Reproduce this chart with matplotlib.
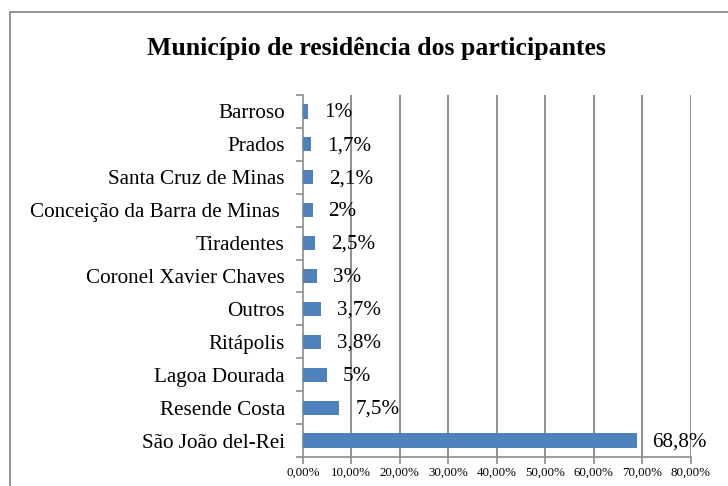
import numpy as np
import matplotlib.pyplot as plt
from matplotlib.patches import Rectangle
from matplotlib.ticker import FuncFormatter

municipios = ['São João del-Rei', 'Resende Costa', 'Lagoa Dourada', 'Ritápolis', 'Outros',
              'Coronel Xavier Chaves', 'Tiradentes', 'Conceição da Barra de Minas ',
              'Santa Cruz de Minas', 'Prados', 'Barroso']
percentuais = [68.8, 7.5, 5, 3.8, 3.7, 3, 2.5, 2, 2.1, 1.7, 1]
rotulos = ['68,8%', '7,5%', '5%', '3,8%', '3,7%', '3%', '2,5%', '2%', '2,1%', '1,7%', '1%']

plt.rcParams['font.family'] = ['Liberation Serif', 'DejaVu Serif']

fig = plt.figure(figsize=(7.28, 4.86), dpi=100)
ax = fig.add_axes([0.416, 0.0597, 0.533, 0.7448])

# moldura do grafico (corta na direita e embaixo como no original)
fig.patches.append(Rectangle((10 / 728, -0.05), 1.2, 1 - 12 / 486 + 0.05,
                             transform=fig.transFigure, fill=False,
                             edgecolor='#8c8c8c', lw=1.3))

y = np.arange(len(municipios))
ax.barh(y, percentuais, height=0.43, color='#4F81BD', zorder=3)
for yi, v, lab in zip(y, percentuais, rotulos):
    ax.annotate(lab, (v, yi), xytext=(11.5, -1), textcoords='offset points',
                va='center', ha='left', fontsize=15.2, zorder=4)

ax.set_xlim(0, 80)
ax.set_ylim(-0.5, len(municipios) - 0.5)
ax.set_xticks(np.arange(0, 81, 10))
ax.xaxis.set_major_formatter(FuncFormatter(lambda v, p: '{:.2f}%'.format(v).replace('.', ',')))
ax.tick_params(axis='x', labelsize=9.3, length=5, color='#8c8c8c', width=1.2, pad=2)

ax.set_yticks(y)
ax.set_yticklabels(municipios, fontsize=15.2)
ax.set_yticks(np.arange(-0.5, len(municipios), 1), minor=True)
ax.tick_params(axis='y', which='major', length=0, pad=13)
ax.tick_params(axis='y', which='minor', length=5, color='#8c8c8c', width=1.2)

for xg in range(10, 81, 10):
    ax.axvline(xg, color='#868686', lw=1.3, zorder=1)

for s in ['top', 'right']:
    ax.spines[s].set_visible(False)
for s in ['left', 'bottom']:
    ax.spines[s].set_color('#8c8c8c')
    ax.spines[s].set_linewidth(1.2)

fig.text(376 / 728, 1 - 48 / 486, 'Município de residência dos participantes',
         ha='center', va='center', fontsize=18.5, fontweight='bold')

fig.savefig('out.png', dpi=100)
